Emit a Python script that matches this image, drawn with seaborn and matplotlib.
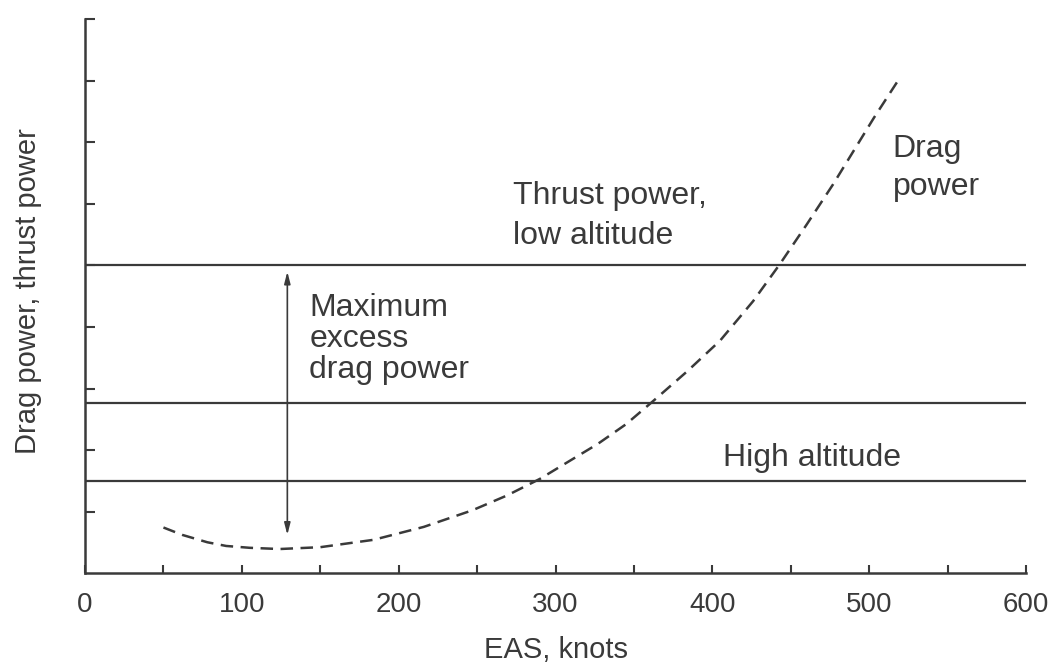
import numpy as np
import pandas as pd
import matplotlib
matplotlib.use("Agg")
import matplotlib.pyplot as plt
import seaborn as sns

# drag power curve (EAS knots, arbitrary power units)
speed = [50, 62, 78, 90, 105, 124, 150, 184, 216, 247, 269, 290, 327, 345, 362, 384,
         405, 426, 443, 460, 477, 490, 503, 518]
drag_power = [0.74, 0.62, 0.50, 0.44, 0.41, 0.39, 0.42, 0.54, 0.75, 1.02, 1.26, 1.53,
              2.10, 2.42, 2.79, 3.28, 3.78, 4.42, 5.02, 5.66, 6.32, 6.86, 7.40, 7.99]

# thrust power levels: low altitude, middle, high altitude
thrust_levels = [5.0, 2.77, 1.5]

# arrow for maximum excess power
arrow_speed = 129
arrow_low, arrow_high = 0.62, 4.9

x_ticks = [0, 100, 200, 300, 400, 500, 600]
x_minor = [50, 150, 250, 350, 450, 550]
y_ticks = [1, 2, 3, 4, 5, 6, 7, 8, 9]

sns.set_style("ticks")
plt.rcParams["font.family"] = ["Liberation Sans", "DejaVu Sans"]

ink = "#3a3a3a"

fig = plt.figure(figsize=(10.55, 6.67), dpi=100)
ax = fig.add_axes([0.0806, 0.1409, 0.8919, 0.8299])

df = pd.DataFrame({"speed": speed, "drag": drag_power})
sns.lineplot(data=df, x="speed", y="drag", ax=ax, color=ink, lw=1.8,
             linestyle=(0, (5, 3)), sort=False)

for lvl in thrust_levels:
    ax.axhline(lvl, color=ink, lw=1.6)

ax.annotate("", xy=(arrow_speed, arrow_low), xytext=(arrow_speed, arrow_high),
            arrowprops=dict(arrowstyle="<|-|>,head_length=0.7,head_width=0.18",
                            color=ink, lw=1.2, shrinkA=0, shrinkB=0))

# va="baseline" sits the last line on y
fs = 23
ax.text(273, 5.35, "Thrust power,\nlow altitude", fontsize=fs, color=ink,
        va="baseline", linespacing=1.45)
ax.text(143, 3.17, "Maximum\nexcess\ndrag power", fontsize=fs, color=ink,
        va="baseline", linespacing=1.05)
ax.text(515, 6.14, "Drag\npower", fontsize=fs, color=ink,
        va="baseline", linespacing=1.38)
ax.text(407, 1.74, "High altitude", fontsize=fs, color=ink, va="baseline")

ax.set_xlim(0, 600)
ax.set_ylim(0, 9)
ax.set_xticks(x_ticks)
ax.set_xticks(x_minor, minor=True)
ax.set_yticks(y_ticks)
ax.set_yticklabels([])
ax.tick_params(axis="both", which="both", direction="in", color=ink, width=1.5)
ax.tick_params(axis="x", which="both", length=6, pad=14, labelsize=20, labelcolor=ink)
ax.tick_params(axis="y", length=7)

sns.despine(ax=ax)
for s in ["left", "bottom"]:
    ax.spines[s].set_color(ink)
    ax.spines[s].set_linewidth(1.8)

ax.set_xlabel("EAS, knots", fontsize=21, color=ink)
ax.set_ylabel("Drag power, thrust power", fontsize=21, color=ink)
ax.xaxis.set_label_coords(0.5, -0.114)
ax.yaxis.set_label_coords(-0.046, 0.509)

fig.savefig("out.png", dpi=100)
